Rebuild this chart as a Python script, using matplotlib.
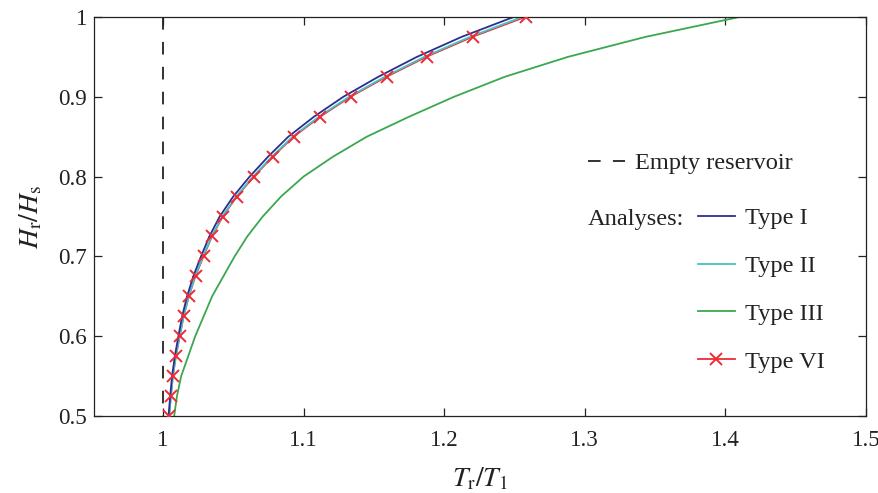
import matplotlib
matplotlib.use("Agg")
import matplotlib.pyplot as plt
from matplotlib.lines import Line2D
from matplotlib.ticker import FuncFormatter

plt.rcParams['font.family'] = ['Liberation Serif', 'DejaVu Serif']
plt.rcParams['mathtext.fontset'] = 'stix'

# Data (H_r/H_s levels and T_r/T_1 values)
h_levels = [0.500, 0.525, 0.550, 0.575, 0.600, 0.625, 0.650, 0.675, 0.700,
            0.725, 0.750, 0.775, 0.800, 0.825, 0.850, 0.875, 0.900, 0.925,
            0.950, 0.975, 1.000]
type_i = [1.0040, 1.0052, 1.0065, 1.0085, 1.0110, 1.0137, 1.0172, 1.0216, 1.0271,
          1.0330, 1.0404, 1.0500, 1.0617, 1.0748, 1.0892, 1.1074, 1.1283, 1.1531,
          1.1806, 1.2123, 1.2494]
type_ii = [1.0045, 1.0057, 1.0071, 1.0092, 1.0119, 1.0147, 1.0183, 1.0229, 1.0286,
           1.0346, 1.0422, 1.0521, 1.0641, 1.0775, 1.0922, 1.1109, 1.1323, 1.1577,
           1.1858, 1.2182, 1.2553]
type_iii = [1.008, 1.010, 1.013, 1.018, 1.023, 1.029, 1.035, 1.043, 1.051,
            1.060, 1.071, 1.084, 1.100, 1.121, 1.145, 1.175, 1.207, 1.243,
            1.288, 1.343, 1.410]
type_vi = [1.0045, 1.0058, 1.0072, 1.0094, 1.0121, 1.0149, 1.0186, 1.0232, 1.0290,
           1.0350, 1.0427, 1.0527, 1.0648, 1.0783, 1.0932, 1.1120, 1.1336, 1.1592,
           1.1876, 1.2203, 1.2580]
empty_x = [1.0, 1.0]
empty_y = [1.0, 0.5]

x_ticks = [1.0, 1.1, 1.2, 1.3, 1.4, 1.5]
y_ticks = [0.5, 0.6, 0.7, 0.8, 0.9, 1.0]

c_blue = '#2b2f8f'
c_cyan = '#45c3c3'
c_green = '#3aa84e'
c_red = '#ee2b35'
c_text = '#222222'
dash = (7.0, 6.8)
leg_fs = 17.6

fig = plt.figure(figsize=(8.79, 4.93), dpi=100)
ax = fig.add_axes([94/879, 1-416/493, (866-94)/879, (416-17)/493])

ax.plot(empty_x, empty_y, color=c_text, lw=1.3, dashes=dash, zorder=2)
ax.plot(type_vi, h_levels, color=c_red, lw=1.0, zorder=2.2)
ax.plot(type_iii, h_levels, color=c_green, lw=1.3, zorder=2.3)
ax.plot(type_ii, h_levels, color=c_cyan, lw=1.3, zorder=2.4)
ax.plot(type_i, h_levels, color=c_blue, lw=1.3, zorder=2.5)
ax.plot(type_vi, h_levels, color=c_red, lw=0, marker='x', ms=8, mew=1.4, zorder=2.6)

ax.set_xlim(0.951, 1.5)
ax.set_ylim(0.5, 1.0)
ax.set_xticks(x_ticks)
ax.set_yticks(y_ticks)
fmt = FuncFormatter(lambda v, p: ('%g' % round(v, 2)))
ax.xaxis.set_major_formatter(fmt)
ax.yaxis.set_major_formatter(fmt)
ax.tick_params(direction='in', length=6, width=0.9, top=True, right=True,
               labelsize=16.6, colors=c_text)
ax.tick_params(axis='x', pad=10)
ax.tick_params(axis='y', pad=5)
for s in ax.spines.values():
    s.set_linewidth(0.9)
    s.set_color(c_text)

ax.set_xlabel(r'$T_\mathrm{r}/T_\mathrm{1}$', fontsize=20, color=c_text, labelpad=11)
ax.set_ylabel(r'$H_\mathrm{r}/H_\mathrm{s}$', fontsize=20, color=c_text, labelpad=10)

h_empty = Line2D([], [], color=c_text, lw=1.3, dashes=dash)
leg1 = fig.legend([h_empty], ['Empty reservoir'], loc='center left',
                  bbox_to_anchor=(588/879, 1-163/493), frameon=False, fontsize=leg_fs,
                  handlelength=1.5, handletextpad=0.41, borderpad=0, borderaxespad=0)
for t in leg1.get_texts():
    t.set_color(c_text)

h_i = Line2D([], [], color=c_blue, lw=1.3)
h_ii = Line2D([], [], color=c_cyan, lw=1.3)
h_iii = Line2D([], [], color=c_green, lw=1.3)
h_vi = Line2D([], [], color=c_red, lw=1.3, marker='x', ms=8, mew=1.4)
leg2 = fig.legend([h_i, h_ii, h_iii, h_vi], ['Type I', 'Type II', 'Type III', 'Type VI'],
                  loc='center left', bbox_to_anchor=(698/879, 1-290/493), frameon=False,
                  fontsize=leg_fs, handlelength=1.5, handletextpad=0.41, labelspacing=1.05,
                  borderpad=0, borderaxespad=0)
for t in leg2.get_texts():
    t.set_color(c_text)

fig.text(588/879, 1-219/493, 'Analyses:', fontsize=leg_fs, color=c_text, ha='left', va='center')

fig.savefig('out.png', dpi=100)
